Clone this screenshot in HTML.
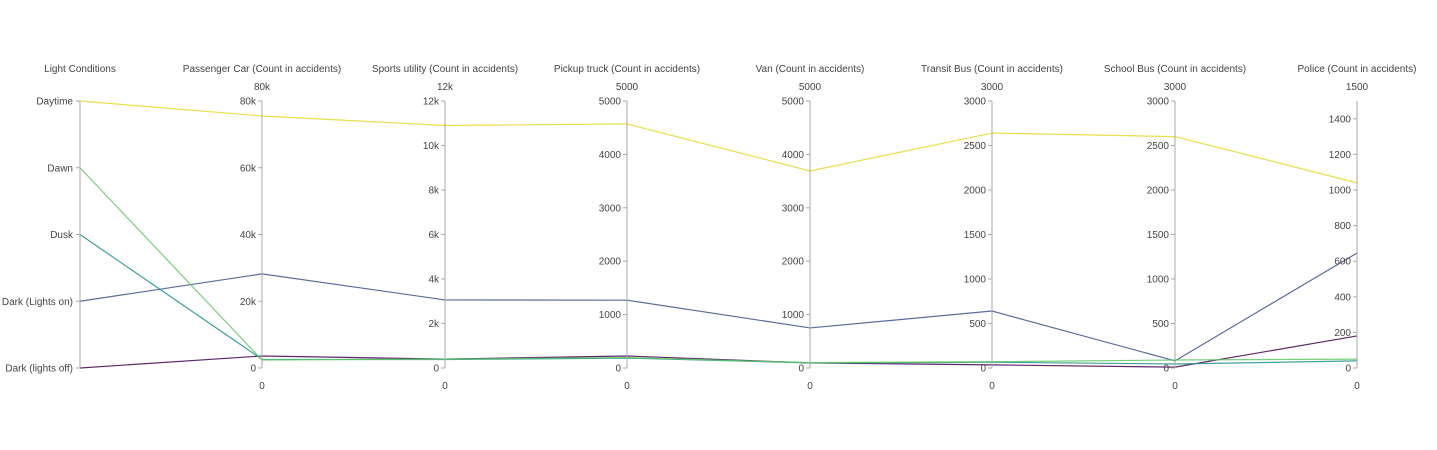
<!DOCTYPE html>
<html><head><meta charset="utf-8">
<style>
body{margin:0;background:#fff;}
svg{display:block;font-family:"Liberation Sans",sans-serif;}
</style></head>
<body>
<svg id="chart" width="1437" height="450"></svg>
<script>
const dimNames=["Passenger Car (Count in accidents)","Sports utility (Count in accidents)","Pickup truck (Count in accidents)","Van (Count in accidents)","Transit Bus (Count in accidents)","School Bus (Count in accidents)","Police (Count in accidents)"];
const dimMax=[80000,12000,5000,5000,3000,3000,1500];
const dimTopLabel=["80k","12k","5000","5000","3000","3000","1500"];
const dimTicks=[[0,20000,40000,60000],[0,2000,4000,6000,8000,10000],[0,1000,2000,3000,4000],[0,1000,2000,3000,4000],[0,500,1000,1500,2000,2500],[0,500,1000,1500,2000,2500],[0,200,400,600,800,1000,1200,1400]];
const categories=["Dark (lights off)","Dark (Lights on)","Dusk","Dawn","Daytime"];
const colors=["#440154","#3b528b","#21918c","#5ec962","#e6d82a"];
const darkOff=[3600,400,225,95,35,10,180];
const darkOn=[28200,3060,1270,750,640,80,646];
const dusk=[2600,380,185,95,65,45,40];
const dawn=[2400,400,195,100,70,90,50];
const daytime=[75500,10900,4570,3690,2640,2600,1040];
const series=[darkOff,darkOn,dusk,dawn,daytime];

const svg=document.getElementById('chart');
const NS="http://www.w3.org/2000/svg";
const axX=[80,262,445,627,810,992,1175,1357];
const yTop=101,yBot=368;
function mk(tag,attrs,txt){const e=document.createElementNS(NS,tag);for(const k in attrs)e.setAttribute(k,attrs[k]);if(txt!==undefined)e.textContent=txt;svg.appendChild(e);return e;}
function yVal(v,max){return yBot-(v/max)*(yBot-yTop);}
function yCat(i){return yBot-i*(yBot-yTop)/(categories.length-1);}

series.forEach((vals,ci)=>{
  let pts=[[axX[0],yCat(ci)]];
  vals.forEach((v,d)=>pts.push([axX[d+1],yVal(v,dimMax[d])]));
  const p=mk('polyline',{points:pts.map(p=>p.join(',')).join(' '),fill:'none',stroke:colors[ci],'stroke-width':1.2,'stroke-opacity':0.85});
  
  
});

let a=mk('line',{x1:axX[0],y1:yTop,x2:axX[0],y2:yBot,stroke:'#aaa','stroke-width':1});


let t=mk('text',{x:axX[0],y:72,'text-anchor':'middle','font-size':10,fill:'#444'},"Light Conditions");


categories.forEach((c,i)=>{
  const y=yCat(i);
  mk('line',{x1:axX[0]-4,y1:y,x2:axX[0],y2:y,stroke:'#aaa'});
  const l=mk('text',{x:axX[0]-7,y:y+3.5,'text-anchor':'end','font-size':10,fill:'#444'},c);
  
  
});

dimNames.forEach((n,d)=>{
  const x=axX[d+1];
  const ax=mk('line',{x1:x,y1:yTop,x2:x,y2:yBot,stroke:'#aaa','stroke-width':1});
  
  
  const ti=mk('text',{x:x,y:72,'text-anchor':'middle','font-size':10,fill:'#444'},n);
  
  
  const tl=mk('text',{x:x,y:90,'text-anchor':'middle','font-size':10,fill:'#444'},dimTopLabel[d]);
  
  
  const bl=mk('text',{x:x,y:389,'text-anchor':'middle','font-size':10,fill:'#444'},"0");
  
  
  const ticks=dimTicks[d].slice();
  if(dimMax[d]!==1500) ticks.push(dimMax[d]);
  ticks.forEach(v=>{
    const y=yVal(v,dimMax[d]);
    mk('line',{x1:x-4,y1:y,x2:x,y2:y,stroke:'#aaa'});
    const lab=(dimMax[d]>=12000)?(v===0?"0":(v/1000)+"k"):String(v);
    const tk=mk('text',{x:x-6,y:y+3.5,'text-anchor':'end','font-size':10,fill:'#444'},lab);
    
    
  });
});
</script>
</body></html>
